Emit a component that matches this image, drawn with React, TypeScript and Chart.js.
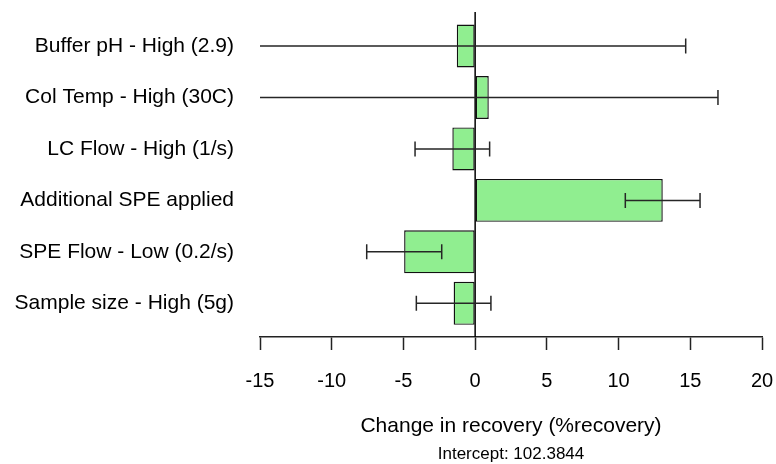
import React, { useEffect, useRef } from 'react';
import { Chart, registerables } from 'chart.js';

Chart.register(...registerables);

const categories = [
  'Buffer pH - High (2.9)',
  'Col Temp - High (30C)',
  'LC Flow - High (1/s)',
  'Additional SPE applied',
  'SPE Flow - Low (0.2/s)',
  'Sample size - High (5g)',
];
const effects = [-1.28, 0.95, -1.59, 13.08, -4.95, -1.5];
const errLow = [-17.24, -15.1, -4.19, 10.47, -7.56, -4.1];
const errHigh = [14.68, 16.93, 1.01, 15.68, -2.33, 1.1];

const xMin = -15;
const xMax = 20;
const xStep = 5;
const xAxisTitle = 'Change in recovery (%recovery)';
const footnote = 'Intercept: 102.3844';

const FONT = "'Liberation Sans', Arial, Helvetica, sans-serif";

const errorBarPlugin = {
  id: 'errorBars',
  afterDatasetsDraw(chart: any) {
    const { ctx, chartArea, scales } = chart;
    const x = scales.x;
    const y = scales.y;
    ctx.save();
    // zero reference line
    const zx = x.getPixelForValue(0);
    ctx.strokeStyle = '#000';
    ctx.lineWidth = 1.5;
    ctx.beginPath();
    ctx.moveTo(zx, chartArea.top);
    ctx.lineTo(zx, chartArea.bottom);
    ctx.stroke();

    ctx.beginPath();
    ctx.rect(chartArea.left, chartArea.top, chartArea.right - chartArea.left, chartArea.bottom - chartArea.top);
    ctx.clip();
    ctx.strokeStyle = '#262626';
    ctx.lineWidth = 1.5;
    categories.forEach((_, i) => {
      const py = y.getPixelForValue(i);
      const x1 = x.getPixelForValue(errLow[i]);
      const x2 = x.getPixelForValue(errHigh[i]);
      ctx.beginPath();
      ctx.moveTo(x1, py);
      ctx.lineTo(x2, py);
      ctx.moveTo(x1, py - 7.5);
      ctx.lineTo(x1, py + 7.5);
      ctx.moveTo(x2, py - 7.5);
      ctx.lineTo(x2, py + 7.5);
      ctx.stroke();
    });
    ctx.restore();
  },
};

const footnotePlugin = {
  id: 'footnote',
  afterDraw(chart: any) {
    const { ctx, chartArea } = chart;
    ctx.save();
    ctx.font = `17px ${FONT}`;
    ctx.fillStyle = '#000';
    ctx.textAlign = 'center';
    ctx.textBaseline = 'middle';
    ctx.fillText(footnote, (chartArea.left + chartArea.right) / 2, chart.height - 10);
    ctx.restore();
  },
};

const zeroPadding = (s: any) => {
  s.paddingTop = 0;
  s.paddingBottom = 0;
  s.paddingLeft = 0;
  s.paddingRight = 0;
};

export default function App() {
  const ref = useRef<HTMLCanvasElement | null>(null);

  useEffect(() => {
    if (!ref.current) return;
    const chart = new Chart(ref.current, {
      type: 'bar',
      data: {
        datasets: [
          {
            data: effects.map((v, i) => ({ x: v, y: i })) as any,
            backgroundColor: '#90EE90',
            borderColor: '#111',
            borderWidth: 1.4,
            borderSkipped: false,
            categoryPercentage: 1,
            barPercentage: 0.835,
          },
        ],
      },
      options: {
        animation: false,
        responsive: false,
        maintainAspectRatio: false,
        events: [],
        indexAxis: 'y',
        layout: { padding: { top: 12, right: 14, left: 0, bottom: 0 } },
        plugins: {
          legend: { display: false },
          tooltip: { enabled: false },
          title: { display: false },
        },
        scales: {
          x: {
            type: 'linear',
            position: 'bottom',
            min: xMin,
            max: xMax,
            offset: false,
            ticks: {
              stepSize: xStep,
              color: '#000',
              font: { family: FONT, size: 20 },
              padding: 19,
              maxRotation: 0,
            },
            grid: {
              drawOnChartArea: false,
              drawTicks: true,
              tickLength: 13,
              tickColor: '#222',
              tickWidth: 1.5,
            },
            border: { display: true, color: '#222', width: 1.5 },
            title: {
              display: true,
              text: xAxisTitle,
              color: '#000',
              font: { family: FONT, size: 21 },
              padding: { top: 0, bottom: 25 },
            },
            afterFit: (s: any) => {
              s.height = 127;
              zeroPadding(s);
            },
          } as any,
          y: {
            type: 'linear',
            reverse: true,
            offset: false,
            min: -0.661,
            max: 5.655,
            afterBuildTicks: (s: any) => {
              s.ticks = categories.map((_, i) => ({ value: i }));
            },
            ticks: {
              callback: (v: any) => categories[v] ?? '',
              color: '#000',
              font: { family: FONT, size: 21 },
              padding: 26,
              autoSkip: false,
            },
            grid: { display: false, drawTicks: false, tickLength: 0 },
            border: { display: false },
            afterFit: (s: any) => {
              s.width = 260;
              zeroPadding(s);
            },
          } as any,
        },
      },
      plugins: [errorBarPlugin, footnotePlugin],
    });
    return () => chart.destroy();
  }, []);

  return (
    <div style={{ position: 'fixed', left: 0, top: 0, width: 776, height: 464, background: '#fff' }}>
      <canvas ref={ref} width={776} height={464} style={{ display: 'block' }} />
    </div>
  );
}
